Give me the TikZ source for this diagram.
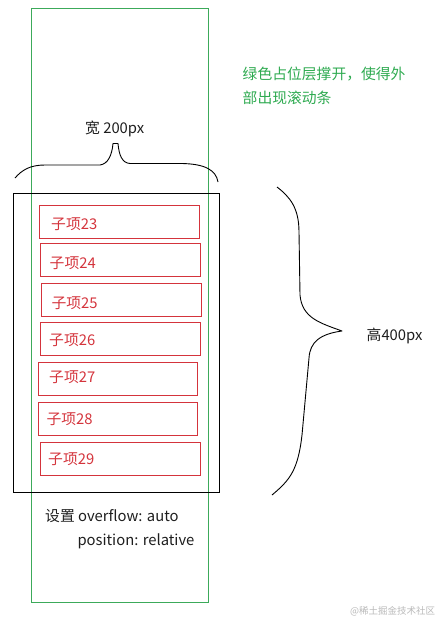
\documentclass[tikz,border=0pt]{standalone}
\usepackage{fontspec}
\setmainfont{Noto Sans CJK SC}
\definecolor{holdgreen}{RGB}{60,170,90}
\definecolor{itemred}{RGB}{212,52,60}
\definecolor{notegreen}{RGB}{46,170,80}
\definecolor{darktext}{RGB}{30,30,30}
\definecolor{markgray}{RGB}{185,185,185}
\begin{document}
\begin{tikzpicture}[x=1pt,y=-1pt,
  itembox/.style={draw=itemred,line width=0.9pt,anchor=north west,inner sep=0pt},
  itemtext/.style={text=itemred,anchor=west,inner sep=0pt,font=\fontsize{14.8}{17}\selectfont},
  plaintext/.style={text=darktext,anchor=base west,inner sep=0pt,font=\fontsize{14.8}{17}\selectfont},
  greentext/.style={text=notegreen,anchor=base west,inner sep=0pt,font=\fontsize{14.8}{17}\selectfont},
  bracestroke/.style={draw=black,line width=0.9pt,line join=round}]
\useasboundingbox (0,0) rectangle (440,621);
% green placeholder layer
\node[draw=holdgreen,line width=0.9pt,anchor=north west,inner sep=0pt,minimum width=177pt,minimum height=594pt] (green) at (30.5,8) {};
% black scroll container
\node[draw=black,line width=0.9pt,anchor=north west,inner sep=0pt,minimum width=205.5pt,minimum height=299pt] (box) at (13,193) {};
% items
\node[itembox,minimum width=159.4pt,minimum height=33pt] (b23) at (39.3,205) {};
\node[itemtext] (t23) at (51,224) {子项23};
\node[itembox,minimum width=159.4pt,minimum height=33pt] (b24) at (40.3,243.3) {};
\node[itemtext] (t24) at (49.5,263) {子项24};
\node[itembox,minimum width=159.4pt,minimum height=33pt] (b25) at (41.3,283.3) {};
\node[itemtext] (t25) at (51.3,302.7) {子项25};
\node[itembox,minimum width=159.4pt,minimum height=33pt] (b26) at (40.3,322.3) {};
\node[itemtext] (t26) at (49,340) {子项26};
\node[itembox,minimum width=159pt,minimum height=33pt] (b27) at (38.3,362.3) {};
\node[itemtext] (t27) at (49,377.3) {子项27};
\node[itembox,minimum width=159pt,minimum height=33pt] (b28) at (38.3,402.3) {};
\node[itemtext] (t28) at (46.3,419) {子项28};
\node[itembox,minimum width=159.4pt,minimum height=33pt] (b29) at (40.3,442.3) {};
\node[itemtext] (t29) at (48,459) {子项29};
% top brace
\draw[bracestroke] (15,178) .. controls (22,170) and (30,165) .. (45,165) -- (100,165)
  .. controls (108,164) and (112,155) .. (113,143.5) -- (118,143.5)
  .. controls (119,155) and (122,163) .. (130,163.5) -- (182,163.5)
  .. controls (205,164) and (216,170) .. (218,182);
\node[plaintext] (wlabel) at (85,133.5) {宽 200px};
% right brace
\draw[bracestroke] (277,187) .. controls (290,197) and (299,208) .. (299,232) -- (300,295)
  .. controls (302,318) and (320,323) .. (342,331)
  .. controls (320,334) and (310,342) .. (309,358) -- (302,435)
  .. controls (298,470) and (290,480) .. (272,495);
\node[plaintext] (hlabel) at (366.5,340.5) {高400px};
% green note
\node[greentext] (note1) at (242.5,79.5) {绿色占位层撑开，使得外};
\node[greentext] (note2) at (242.5,103) {部出现滚动条};
% bottom note
\node[plaintext] (css1) at (45,521) {设置 overflow: auto};
\node[plaintext] (css2) at (77.3,545) {position: relative};
% watermark
\node[text=markgray,anchor=base west,inner sep=0pt,font=\fontsize{9.5}{11}\selectfont] (mark) at (350,614) {@稀土掘金技术社区};
\end{tikzpicture}
\end{document}
